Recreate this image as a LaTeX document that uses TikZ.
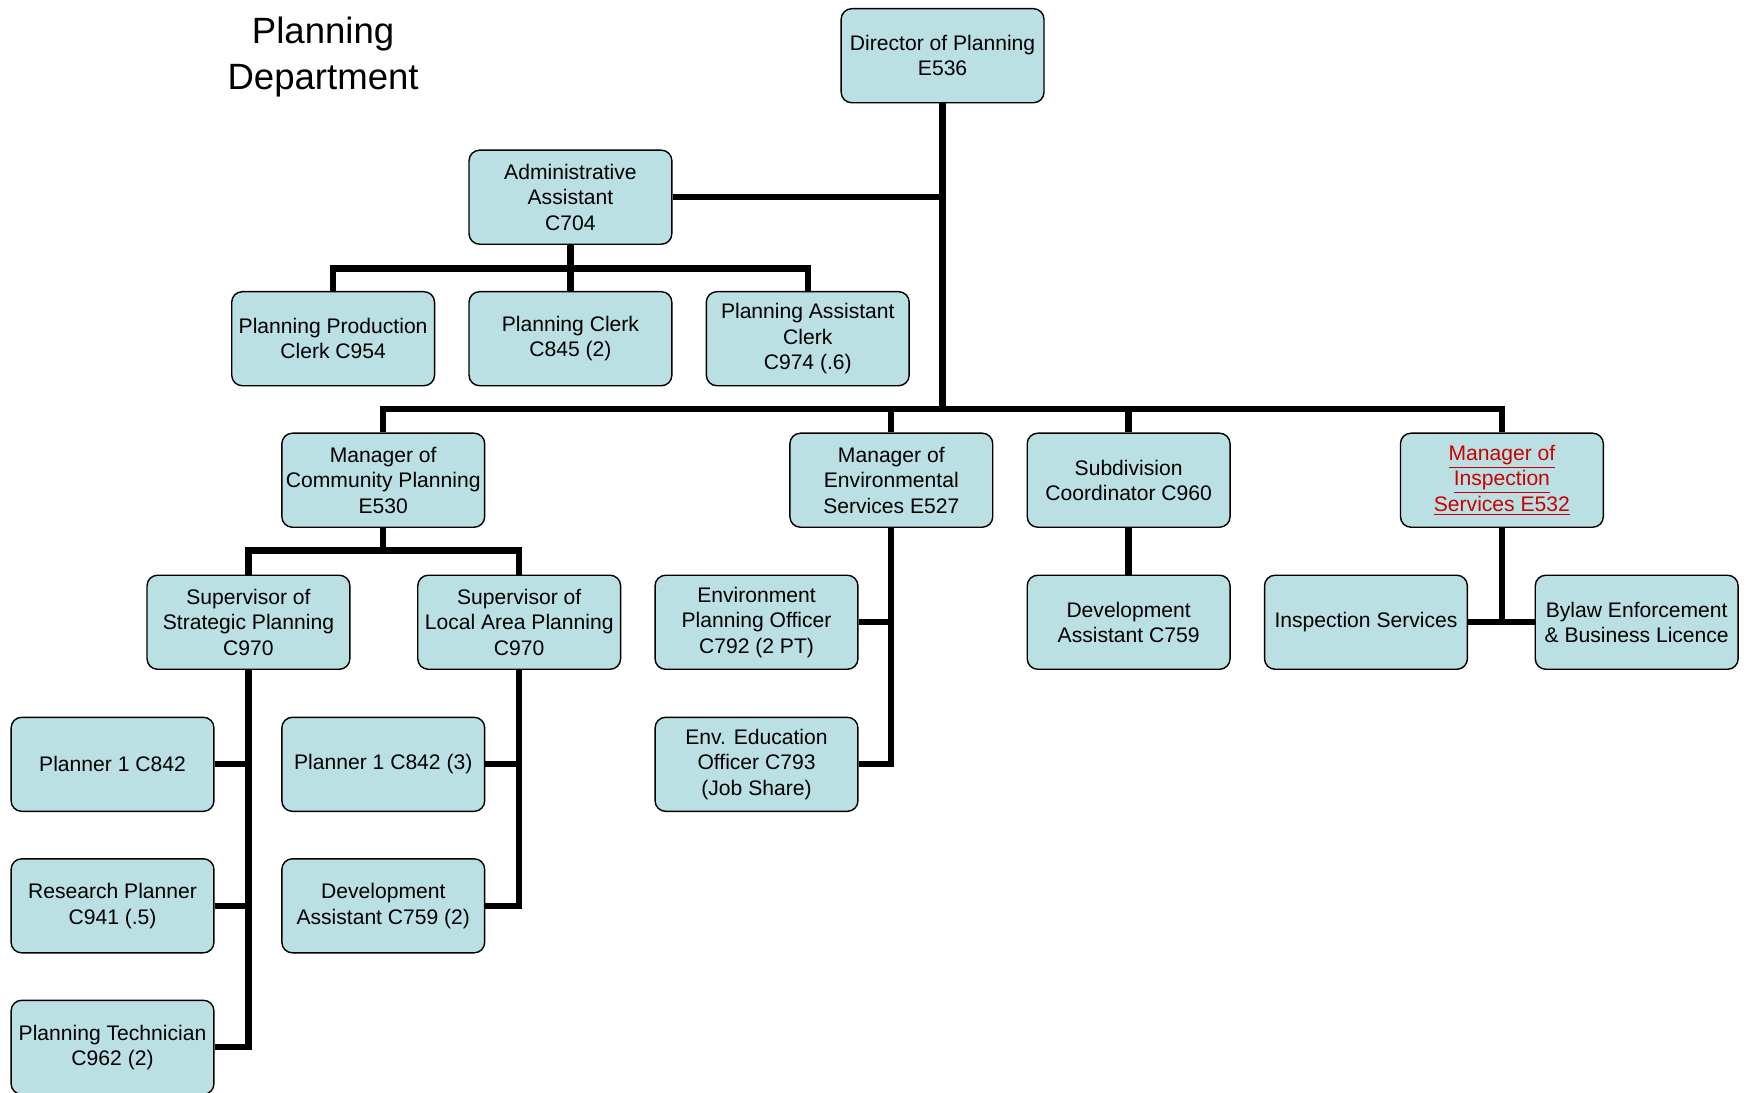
\documentclass[tikz,border=0pt]{standalone}
\usepackage{fontspec}
\setmainfont{Liberation Sans}
\definecolor{boxfill}{RGB}{187,224,227}
\definecolor{linkred}{RGB}{204,0,0}
\begin{document}
\begin{tikzpicture}[x=0.022284cm,y=-0.022284cm,
	post/.style={rectangle, draw=black, fill=boxfill, rounded corners=6pt, line width=0.8pt, minimum width=115.4pt, minimum height=53.5pt, inner sep=1pt, align=center, font=\fontsize{12}{14.5}\selectfont},
	link/.style={draw=black, line width=3.6pt, line join=miter},
	heading/.style={align=center, font=\fontsize{20.8}{26}\selectfont}]
	
	\useasboundingbox (0,0) rectangle (1568,981);
	
	%Nodes
	\node[heading]	(title)	at (290,51) {Planning\\Department};
	\node[post]	(dir)	at (846,50) {Director of Planning\\E536};
	\node[post]	(adm)	at (512,177) {Administrative\\Assistant\\C704};
	\node[post]	(ppc)	at (299,304) {Planning Production\\Clerk C954};
	\node[post]	(pcl)	at (512,304) {Planning Clerk\\C845 (2)};
	\node[post]	(pac)	at (725,304) {Planning Assistant\\Clerk\\C974 (.6)};
	\node[post]	(mcp)	at (344,431) {Manager of\\Community Planning\\E530};
	\node[post]	(mes)	at (800,431) {Manager of\\Environmental\\Services E527};
	\node[post]	(sub)	at (1013,431) {Subdivision\\Coordinator C960};
	\node[post]	(mis)	at (1348,431) {\color{linkred}\underline{Manager of}\\\color{linkred}\underline{Inspection}\\\color{linkred}\underline{Services E532}};
	\node[post]	(ssp)	at (223,558.5) {Supervisor of\\Strategic Planning\\C970};
	\node[post]	(sla)	at (466,558.5) {Supervisor of\\Local Area Planning\\C970};
	\node[post]	(epo)	at (679,558.5) {Environment\\Planning Officer\\C792 (2 PT)};
	\node[post]	(dac)	at (1013,558.5) {Development\\Assistant C759};
	\node[post]	(ins)	at (1226,558.5) {Inspection Services};
	\node[post]	(byl)	at (1469,558.5) {Bylaw Enforcement\\\& Business Licence};
	\node[post]	(pls)	at (101,686) {Planner 1 C842};
	\node[post]	(pll)	at (344,686) {Planner 1 C842 (3)};
	\node[post]	(eeo)	at (679,686) {Env. Education\\Officer C793\\(Job Share)};
	\node[post]	(rpl)	at (101,813) {Research Planner\\C941 (.5)};
	\node[post]	(dal)	at (344,813) {Development\\Assistant C759 (2)};
	\node[post]	(pte)	at (101,940) {Planning Technician\\C962 (2)};
	
	\coordinate	(bus)	at (846,367);
	\coordinate	(admbus)	at (512,241);
	\coordinate	(mcpbus)	at (344,494);
	
	%Lines
	\draw[link] (dir.south) -- (bus);
	\draw[link] (adm.east) -- (adm.east -| dir.south);
	\draw[link] (mcp.north) |- (bus) -| (mis.north);
	\draw[link] (mes.north) -- (mes.north |- bus);
	\draw[link] (sub.north) -- (sub.north |- bus);
	\draw[link] (adm.south) -- (pcl.north);
	\draw[link] (ppc.north) |- (admbus) -| (pac.north);
	\draw[link] (mcp.south) -- (mcpbus);
	\draw[link] (ssp.north) |- (mcpbus) -| (sla.north);
	\draw[link] (ssp.south) |- (pte.east);
	\draw[link] (pls.east) -- (pls.east -| ssp.south);
	\draw[link] (rpl.east) -- (rpl.east -| ssp.south);
	\draw[link] (sla.south) |- (dal.east);
	\draw[link] (pll.east) -- (pll.east -| sla.south);
	\draw[link] (mes.south) |- (eeo.east);
	\draw[link] (epo.east) -- (epo.east -| mes.south);
	\draw[link] (sub.south) -- (dac.north);
	\draw[link] (mis.south) -- (mis.south |- ins.east);
	\draw[link] (ins.east) -- (byl.west);
\end{tikzpicture}
\end{document}
